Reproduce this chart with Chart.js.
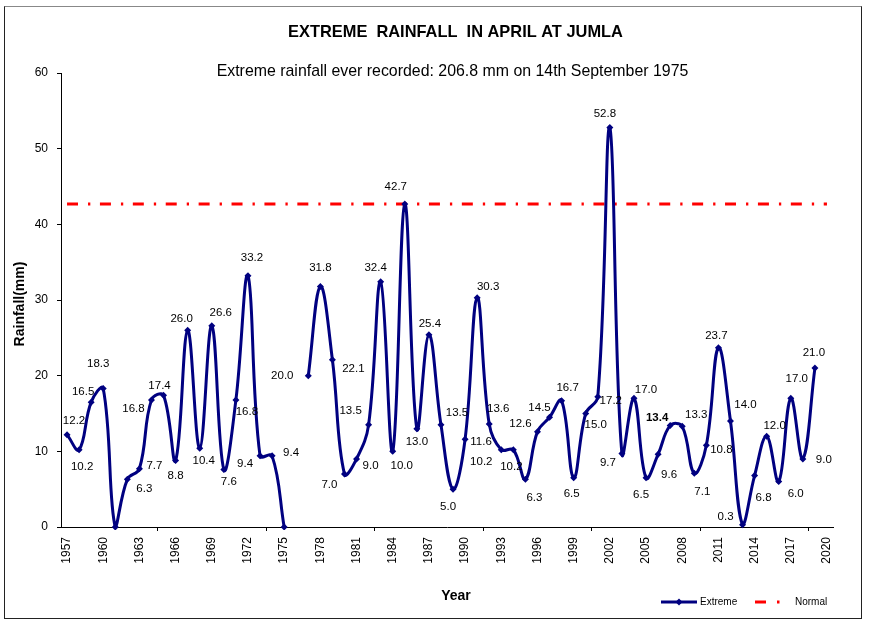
<!DOCTYPE html>
<html>
<head>
<meta charset="utf-8">
<script src="https://cdn.jsdelivr.net/npm/chart.js@4.4.1/dist/chart.umd.min.js"></script>
<style>
  html, body { margin: 0; padding: 0; background: #ffffff; }
  #wrap { width: 872px; height: 621px; position: relative; }
</style>
</head>
<body>
<div id="wrap"><canvas id="c" width="872" height="621"></canvas></div>
<script>
// ---- data ----
const years = ['1957','1958','1959','1960','1961','1962','1963','1964','1965','1966',
               '1967','1968','1969','1970','1971','1972','1973','1974','1975','1976',
               '1977','1978','1979','1980','1981','1982','1983','1984','1985','1986',
               '1987','1988','1989','1990','1991','1992','1993','1994','1995','1996',
               '1997','1998','1999','2000','2001','2002','2003','2004','2005','2006',
               '2007','2008','2009','2010','2011','2012','2013','2014','2015','2016',
               '2017','2018','2019','2020'];
const extreme = [12.2, 10.2, 16.5, 18.3, 0, 6.3, 7.7, 16.8, 17.4, 8.8,
                 26.0, 10.4, 26.6, 7.6, 16.8, 33.2, 9.4, 9.4, 0, null,
                 20.0, 31.8, 22.1, 7.0, 9.0, 13.5, 32.4, 10.0, 42.7, 13.0,
                 25.4, 13.5, 5.0, 11.6, 30.3, 13.6, 10.2, 10.2, 6.3, 12.6,
                 14.5, 16.7, 6.5, 15.0, 17.2, 52.8, 9.7, 17.0, 6.5, 9.6,
                 13.4, 13.3, 7.1, 10.8, 23.7, 14.0, 0.3, 6.8, 12.0, 6.0,
                 17.0, 9.0, 21.0, null];
const normalValue = 42.7;
const normalFrom = '1957';
const normalTo = '2020';
const yTicks = [0, 10, 20, 30, 40, 50, 60];
const unlabeledYears = ['1961', '1975'];
const boldLabelYears = ['2007'];

// ---- label placement (offset of each value label from its point, px) ----
const labelShift = [[7,-14],[3,17],[-8,-10],[-5,-25],null,[17,9],[15,-3],[-18,9],[-4,-10],[0,15],
                    [-6,-11],[4,13],[9,-13],[5,12],[11,12],[4,-18],[-15,8],[19,-3],null,null,
                    [-26,0],[0,-19],[21,9],[-15,11],[14,7],[-18,-14],[-5,-14],[9,14],[-9,-17],[0,13],
                    [1,-11],[16,-12],[-5,18],[16,3],[11,-11],[9,-15],[-20,12],[-2,17],[9,18],[-17,-8],
                    [-10,-9],[6,-13],[-2,16],[10,11],[13,4],[-5,-14],[-14,9],[12,-9],[-5,17],[11,20],
                    [-13,-8],[14,-12],[8,19],[15,5],[-2,-12],[15,-16],[-17,-8],[9,22],[8,-10],[17,12],
                    [6,-20],[21,1],[-1,-15],null];

const FONT = '"Liberation Sans", Arial, Helvetica, sans-serif';
const NAVY = '#000080';
const RED = '#FF0000';

const valueLabels = {
  id: 'valueLabels',
  afterDatasetsDraw(chart) {
    const ctx = chart.ctx;
    const meta = chart.getDatasetMeta(0);
    ctx.save();
    ctx.fillStyle = '#000';
    ctx.textAlign = 'center';
    ctx.textBaseline = 'middle';
    meta.data.forEach((pt, i) => {
      const v = extreme[i];
      if (v === null || unlabeledYears.includes(years[i])) return;
      const off = labelShift[i] || [0, -14];
      ctx.font = (boldLabelYears.includes(years[i]) ? 'bold ' : '') + '11.5px ' + FONT;
      ctx.fillText(v.toFixed(1), pt.x + off[0], pt.y + off[1]);
    });
    ctx.restore();
  }
};

const decorations = {
  id: 'decorations',
  afterDraw(chart) {
    const ctx = chart.ctx;
    ctx.save();
    // frame
    ctx.lineWidth = 1;
    ctx.strokeStyle = '#222';
    ctx.strokeRect(4.5, 6.5, 857, 612);
    ctx.strokeStyle = '#888';
    ctx.beginPath(); ctx.moveTo(4.5, 6.5); ctx.lineTo(861.5, 6.5); ctx.stroke();

    ctx.fillStyle = '#000';
    ctx.textAlign = 'center';
    ctx.textBaseline = 'middle';
    // title
    ctx.font = 'bold 16.4px ' + FONT;
    ctx.fillText('EXTREME  RAINFALL  IN APRIL AT JUMLA', 455.5, 32);
    // subtitle
    ctx.font = '15.9px ' + FONT;
    ctx.fillText('Extreme rainfall ever recorded: 206.8 mm on 14th September 1975', 452.5, 72);
    // x title
    ctx.font = 'bold 14px ' + FONT;
    ctx.fillText('Year', 456, 596);
    // y title
    ctx.save();
    ctx.translate(20, 304);
    ctx.rotate(-Math.PI / 2);
    ctx.font = 'bold 14px ' + FONT;
    ctx.fillText('Rainfall(mm)', 0, 0);
    ctx.restore();

    // legend
    const ly = 602;
    ctx.strokeStyle = NAVY;
    ctx.lineWidth = 3;
    ctx.beginPath(); ctx.moveTo(661, ly); ctx.lineTo(697, ly); ctx.stroke();
    ctx.fillStyle = NAVY;
    ctx.beginPath();
    ctx.moveTo(679, ly - 3.5); ctx.lineTo(682.5, ly); ctx.lineTo(679, ly + 3.5); ctx.lineTo(675.5, ly);
    ctx.closePath(); ctx.fill();
    ctx.strokeStyle = RED;
    ctx.beginPath(); ctx.moveTo(755, ly); ctx.lineTo(766, ly); ctx.stroke();
    ctx.beginPath(); ctx.moveTo(777, ly); ctx.lineTo(779.5, ly); ctx.stroke();
    ctx.fillStyle = '#000';
    ctx.textAlign = 'left';
    ctx.font = '10px ' + FONT;
    ctx.fillText('Extreme', 700, ly);
    ctx.fillText('Normal', 795, ly);
    ctx.restore();
  }
};

new Chart(document.getElementById('c'), {
  type: 'line',
  data: {
    labels: years,
    datasets: [
      {
        label: 'Extreme',
        data: extreme,
        borderColor: NAVY,
        backgroundColor: NAVY,
        borderWidth: 3,
        tension: 0.4,
        spanGaps: false,
        pointStyle: 'rectRot',
        pointRadius: 3.5,
        pointBorderWidth: 0,
        pointBackgroundColor: NAVY,
        clip: 3
      },
      {
        label: 'Normal',
        data: [{x: normalFrom, y: normalValue}, {x: normalTo, y: normalValue}],
        borderColor: RED,
        borderWidth: 3,
        borderDash: [11, 10, 2.3, 9.6],
        pointRadius: 0,
        tension: 0,
        fill: false
      }
    ]
  },
  options: {
    responsive: false,
    animation: false,
    devicePixelRatio: 1,
    layout: { padding: { left: 0, right: 39, top: 73, bottom: 54 } },
    plugins: {
      legend: { display: false },
      tooltip: { enabled: false },
      title: { display: false }
    },
    scales: {
      x: {
        type: 'category',
        offset: true,
        grid: {
          offset: true,
          drawOnChartArea: false,
          drawTicks: true,
          tickLength: 4,
          lineWidth: 1,
          color: (c) => (c.index % 3 === 0 ? '#000' : 'rgba(0,0,0,0)')
        },
        border: { display: true, color: '#000', width: 1 },
        ticks: {
          autoSkip: false,
          maxRotation: 90,
          minRotation: 90,
          padding: 6,
          color: '#000',
          font: { family: FONT, size: 12 },
          callback: function (v, i) { return i % 3 === 0 ? this.getLabelForValue(v) : null; }
        },
        afterFit: (s) => { s.height = 40; }
      },
      y: {
        min: 0,
        max: 60,
        afterBuildTicks: (s) => { s.ticks = yTicks.map(v => ({ value: v })); },
        grid: { drawOnChartArea: false, drawTicks: true, tickLength: 4, color: '#000' },
        border: { display: true, color: '#000', width: 1 },
        ticks: { padding: 9, color: '#000', font: { family: FONT, size: 12 } },
        afterFit: (s) => { s.width = 61; }
      }
    }
  },
  plugins: [valueLabels, decorations]
});
</script>
</body>
</html>
